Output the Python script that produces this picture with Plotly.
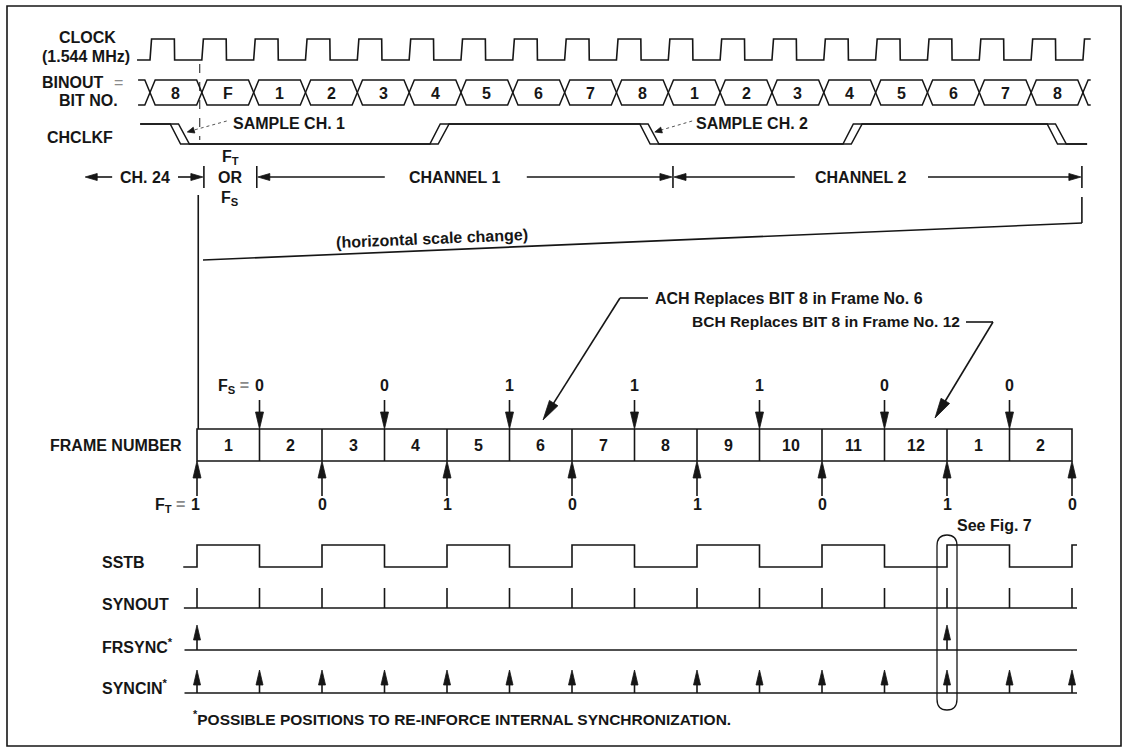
import math
import plotly.graph_objects as go

W, H = 1129, 752
INK = "#161616"
GRAY = "#8a8a8a"
FONT = "Liberation Sans, Arial, Helvetica, sans-serif"

# ---------------- data ----------------
bit_labels = ["8", "F", "1", "2", "3", "4", "5", "6", "7", "8",
              "1", "2", "3", "4", "5", "6", "7", "8"]
clock_rise_bits = [0, 1, 2, 3, 4, 5, 6, 7, 8, 9, 10, 11, 12, 13, 14, 15, 16, 17, 18]
chclkf_edges = [(0.39, "fall"), (5.40, "rise"), (9.45, "fall"), (13.37, "rise"), (17.31, "fall")]
chclkf_span = (-0.19, 18.08)
channel_bounds = [1.04, 2.06, 10.09, 17.98]
channel_names = ["CH. 24", "CHANNEL 1", "CHANNEL 2"]
channel_label_x = [-0.10, 5.88, 13.70]

frame_numbers = [1, 2, 3, 4, 5, 6, 7, 8, 9, 10, 11, 12, 1, 2]
fs_boundaries = [1, 3, 5, 7, 9, 11, 13]
fs_values = [0, 0, 1, 1, 1, 0, 0]
ft_boundaries = [0, 2, 4, 6, 8, 10, 12, 14]
ft_values = [1, 0, 1, 0, 1, 0, 1, 0]
sstb_levels = [1, 0, 1, 0, 1, 0, 1, 0, 1, 0, 1, 0, 1, 0, 1]
synout_pulses = [0, 1, 2, 3, 4, 5, 6, 7, 8, 9, 10, 11, 12, 13, 14]
frsync_pulses = [0, 12]
syncin_pulses = [0, 1, 2, 3, 4, 5, 6, 7, 8, 9, 10, 11, 12, 13, 14]

# ---------------- axis scales ----------------
BIT0_PX, BIT_PX = 150.0, 51.83     # bit-time axis (top section)
FR0_PX, FR_PX = 197.0, 62.5        # frame axis (bottom section)
SX = {"x": 1.0, "x2": BIT_PX, "x3": FR_PX}

fig = go.Figure()

segs = {"x": ([], []), "x2": ([], []), "x3": ([], [])}
heads = {"x": ([], []), "x2": ([], []), "x3": ([], [])}


def add_line(xs, ys, xa="x", w=1.6, color=INK, dash=None):
    fig.add_trace(go.Scatter(x=xs, y=ys, xaxis=xa, yaxis="y", mode="lines",
                             line=dict(color=color, width=w, dash=dash),
                             hoverinfo="skip", showlegend=False))


def seg(xa, x0, y0, x1, y1):
    segs[xa][0].extend([x0, x1, None])
    segs[xa][1].extend([y0, y1, None])


def arrow(xa, tx0, ty0, tx1, ty1, length=14, hw=4, shaft=True):
    """Arrow from tail (tx0,ty0) to tip (tx1,ty1); x in axis units, y in px."""
    s = SX[xa]
    dxp = (tx1 - tx0) * s
    dyp = ty1 - ty0
    n = math.hypot(dxp, dyp)
    ux, uy = dxp / n, dyp / n
    bx, by = -ux * length, -uy * length
    px, py = -uy, ux
    p1 = (tx1 + (bx + px * hw) / s, ty1 + by + py * hw)
    p2 = (tx1 + (bx - px * hw) / s, ty1 + by - py * hw)
    heads[xa][0].extend([tx1, p1[0], p2[0], tx1, None])
    heads[xa][1].extend([ty1, p1[1], p2[1], ty1, None])
    if shaft:
        seg(xa, tx0, ty0, tx1 + bx * 0.6 / s, ty1 + by * 0.6)


def text(x, y, s, xref="x", size=16, anchor="center", color=INK, angle=0,
         bold=True, xshift=0):
    fig.add_annotation(x=x, y=y, xref=xref, yref="y",
                       text=f"<b>{s}</b>" if bold else s, showarrow=False,
                       xanchor=anchor, yanchor="middle", xshift=xshift,
                       font=dict(family=FONT, size=size, color=color),
                       textangle=angle)


# ---------------- CLOCK ----------------
CLK_H, CLK_L = 39, 60
cx, cy = [-0.25], [CLK_L]
for r in clock_rise_bits[:-1]:
    cx += [r, r + 0.03, r + 0.47, r + 0.475]
    cy += [CLK_L, CLK_H, CLK_H, CLK_L]
last = clock_rise_bits[-1]
cx += [last, last + 0.03, last + 0.15]
cy += [CLK_L, CLK_H, CLK_H]
add_line(cx, cy, "x2", 1.6)
text(87, 37, "CLOCK")
text(86, 56, "(1.544 MHz)")

# ---------------- BINOUT ----------------
BT, BB = 80, 105
BM = (BT + BB) / 2
wx = 0.1
bx_, by_ = [], []
bx_ += [-0.23, -wx, 0, -wx, -0.23, None]
by_ += [BT, BT, BM, BB, BB, None]
for i in range(len(bit_labels)):
    a, b = i, i + 1
    bx_ += [a, a + wx, b - wx, b, b - wx, a + wx, a, None]
    by_ += [BM, BT, BT, BM, BB, BB, BM, None]
n_end = len(bit_labels)
bx_ += [n_end + 0.15, n_end + wx, n_end, n_end + wx, n_end + 0.15]
by_ += [BT, BT, BM, BB, BB]
add_line(bx_, by_, "x2", 1.5)
for i, lab in enumerate(bit_labels):
    text(i + 0.5, BM + 0.5, lab, "x2")
text(73, 82, "BINOUT")
text(118, 82, "=", color=GRAY, bold=False)
text(88, 100, "BIT NO.")

# ---------------- CHCLKF ----------------
CH_H, CH_L = 124, 144


def chclkf_wave(shift, trans):
    xs, ys = [chclkf_span[0]], [CH_H]
    level = CH_H
    for t, kind in chclkf_edges:
        new = CH_L if kind == "fall" else CH_H
        xs += [t + shift, t + shift + trans]
        ys += [level, new]
        level = new
    xs.append(chclkf_span[1])
    ys.append(level)
    return xs, ys


for sh, tr in [(0.0, 0.20), (0.16, 0.21)]:
    xs, ys = chclkf_wave(sh, tr)
    add_line(xs, ys, "x2", 1.5)
text(80, 137, "CHCLKF")

# sample marker
add_line([0.96, 0.96], [64, 140], "x2", 1.0, INK, "dash")

# sample leaders
arrow("x2", 1.48, 121, 0.72, 132, length=7, hw=3, shaft=False)
add_line([1.48, 0.78], [121, 131], "x2", 1.0, "#555555", "dot")
text(1.56, 123, "SAMPLE CH. 1", "x2", anchor="left")
arrow("x2", 10.46, 121, 9.74, 132, length=7, hw=3, shaft=False)
add_line([10.46, 9.80], [121, 131], "x2", 1.0, "#555555", "dot")
text(10.5, 123, "SAMPLE CH. 2", "x2", anchor="left")

# ---------------- channel row ----------------
CY = 177
for b in channel_bounds:
    seg("x2", b, 166, b, 188)
# CH. 24
arrow("x2", -0.73, CY, -1.25, CY, length=12, hw=3.5)
text(channel_label_x[0], CY, channel_names[0], "x2")
arrow("x2", 0.54, CY, channel_bounds[0] - 0.02, CY, length=12, hw=3.5)
# F_T OR F_S
fmid = (channel_bounds[0] + channel_bounds[1]) / 2
text(fmid, 157, "F<sub>T</sub>", "x2")
text(fmid, CY, "OR", "x2")
text(fmid, 198, "F<sub>S</sub>", "x2")
# CHANNEL 1
arrow("x2", 4.53, CY, channel_bounds[1] + 0.02, CY, length=12, hw=3.5)
text(channel_label_x[1], CY, channel_names[1], "x2")
arrow("x2", 7.27, CY, channel_bounds[2] - 0.02, CY, length=12, hw=3.5)
# CHANNEL 2
arrow("x2", 12.44, CY, channel_bounds[2] + 0.02, CY, length=12, hw=3.5)
text(channel_label_x[2], CY, channel_names[2], "x2")
arrow("x2", 15.01, CY, channel_bounds[3] - 0.02, CY, length=12, hw=3.5)

# ---------------- horizontal scale change ----------------
seg("x3", 0.02, 195, 0.02, 429)
seg("x2", channel_bounds[3], 197, channel_bounds[3], 223)
seg("x", 203, 260, 1082, 223)
text(432, 238, "(horizontal scale change)", "x", size=16, angle=-2.4)

# ---------------- annotations ACH / BCH ----------------
text(653, 298, "ACH Replaces BIT 8 in Frame No. 6", "x", size=16, anchor="left")
seg("x", 620, 298, 648, 298)
arrow("x", 620, 298, 543, 420, length=20, hw=5)
text(690, 321, "BCH Replaces BIT 8 in Frame No. 12", "x", size=15.5, anchor="left")
seg("x", 966, 322, 993, 322)
arrow("x", 993, 322, 935, 418, length=20, hw=5)

# ---------------- FRAME NUMBER ----------------
FT_, FB_ = 429, 461
nfr = len(frame_numbers)
fig.add_shape(type="rect", xref="x3", yref="y", x0=0, x1=nfr, y0=FT_, y1=FB_,
              line=dict(color=INK, width=1.6))
for k in range(1, nfr):
    seg("x3", k, FT_, k, FB_)
for i, n in enumerate(frame_numbers):
    text(i + 0.5, 445, str(n), "x3")
text(184, 445, "FRAME NUMBER", "x", anchor="right")

for j, (b, v) in enumerate(zip(fs_boundaries, fs_values)):
    arrow("x3", b, 400, b, FT_, length=17, hw=4)
    text(b, 385, str(v), "x3")
    if j == 0:
        text(b, 386, f"F<sub>S</sub> <span style='color:{GRAY}'>=</span>",
             "x3", anchor="right", xshift=-9)

for j, (b, v) in enumerate(zip(ft_boundaries, ft_values)):
    arrow("x3", b, 496, b, FB_, length=17, hw=4)
    if j == 0:
        text(b, 504, str(v), "x3", xshift=-2)
        text(b, 505, f"F<sub>T</sub> <span style='color:{GRAY}'>=</span>",
             "x3", anchor="right", xshift=-10)
    else:
        text(b, 504, str(v), "x3")

# ---------------- SSTB ----------------
SS_H, SS_L = 545, 567
sx_, sy_ = [-0.22], [SS_L]
cur = SS_L
for k, lv in enumerate(sstb_levels):
    new = SS_H if lv else SS_L
    sx_ += [k, k]
    sy_ += [cur, new]
    cur = new
sx_.append(len(sstb_levels) - 1 + 0.08)
sy_.append(cur)
add_line(sx_, sy_, "x3", 1.6)
text(100, 562, "SSTB", "x", anchor="left")

# ---------------- SYNOUT ----------------
SY_B, SY_T = 608, 588
seg("x3", -0.21, SY_B, 14.08, SY_B)
for k in synout_pulses:
    seg("x3", k, SY_B, k, SY_T)
text(100, 604, "SYNOUT", "x", anchor="left")

# ---------------- FRSYNC* ----------------
FR_B, FR_T = 650, 625
seg("x3", -0.2, FR_B, 14.08, FR_B)
for k in frsync_pulses:
    arrow("x3", k, FR_B, k, FR_T, length=15, hw=3.5)
text(100, 646, "FRSYNC<sup>*</sup>", "x", anchor="left")

# ---------------- SYNCIN* ----------------
SC_B, SC_T = 693, 670
seg("x3", -0.2, SC_B, 14.08, SC_B)
for k in syncin_pulses:
    arrow("x3", k, SC_B, k, SC_T, length=15, hw=3.5)
text(100, 687, "SYNCIN<sup>*</sup>", "x", anchor="left")

# ---------------- See Fig. 7 oval ----------------
fig.add_shape(type="path", xref="x", yref="y",
              path="M 937,546 Q 937,535 947,535 Q 957,535 957,546 L 957,699 "
                   "Q 957,710 947,710 Q 937,710 937,699 Z",
              line=dict(color=INK, width=1.3))
text(955, 525, "See Fig. 7", "x", anchor="left")

# footnote
text(191, 718, "<sup>*</sup>POSSIBLE POSITIONS TO RE-INFORCE INTERNAL SYNCHRONIZATION.",
     "x", size=15.5, anchor="left")

# ---------------- flush collected segments & heads ----------------
for xa, (xs, ys) in segs.items():
    if xs:
        add_line(xs, ys, xa, 1.6)
for xa, (xs, ys) in heads.items():
    if xs:
        fig.add_trace(go.Scatter(x=xs, y=ys, xaxis=xa, yaxis="y", mode="lines",
                                 fill="toself", fillcolor=INK,
                                 line=dict(color=INK, width=0.8),
                                 hoverinfo="skip", showlegend=False))

# border
fig.add_shape(type="rect", xref="x", yref="y", x0=7, x1=1121, y0=6, y1=746,
              line=dict(color=INK, width=1.6))

fig.update_layout(
    width=W, height=H, margin=dict(l=0, r=0, t=0, b=0),
    paper_bgcolor="white", plot_bgcolor="white",
    xaxis=dict(range=[0, W], visible=False, domain=[0, 1], fixedrange=True),
    xaxis2=dict(range=[-BIT0_PX / BIT_PX, (W - BIT0_PX) / BIT_PX], overlaying="x",
                visible=False, fixedrange=True),
    xaxis3=dict(range=[-FR0_PX / FR_PX, (W - FR0_PX) / FR_PX], overlaying="x",
                visible=False, fixedrange=True),
    yaxis=dict(range=[H, 0], visible=False, domain=[0, 1], fixedrange=True),
    showlegend=False,
)

fig.write_html("out.html", config={"displayModeBar": False},
               post_script="document.body.style.margin='0';document.body.style.overflow='hidden';")
